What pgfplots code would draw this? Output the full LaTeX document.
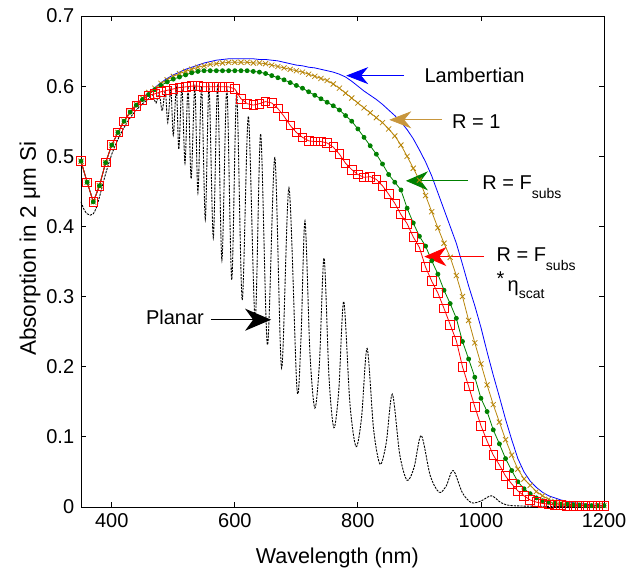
\documentclass[border=0pt]{standalone}
\usepackage{fontspec}
\setmainfont{Liberation Sans}
\usepackage{pgfplots}
\pgfplotsset{compat=1.18}
\usetikzlibrary{arrows.meta}

\definecolor{lamb}{RGB}{0,0,255}
\definecolor{rone}{RGB}{184,134,11}
\definecolor{ronearrow}{RGB}{200,150,60}
\definecolor{fsub}{RGB}{0,128,0}
\definecolor{feta}{RGB}{255,0,0}

% absorption in 2 um Si, sampled every 10 nm
\pgfplotstableread{
x y
350 0.493
360 0.463
370 0.435
380 0.458
390 0.491
400 0.516
410 0.534
420 0.550
430 0.563
440 0.574
450 0.583
460 0.591
470 0.598
480 0.605
490 0.611
500 0.616
510 0.620
520 0.624
530 0.627
540 0.630
550 0.633
560 0.635
570 0.637
580 0.638
590 0.639
600 0.639
610 0.639
620 0.639
630 0.639
640 0.638
650 0.638
660 0.637
670 0.636
680 0.634
690 0.632
700 0.630
710 0.629
720 0.627
730 0.626
740 0.624
750 0.622
760 0.620
770 0.617
780 0.613
790 0.607
800 0.600
810 0.593
820 0.587
830 0.581
840 0.574
850 0.566
860 0.558
870 0.549
880 0.538
890 0.525
900 0.509
910 0.492
920 0.472
930 0.448
940 0.424
950 0.400
960 0.376
970 0.346
980 0.315
990 0.287
1000 0.256
1010 0.221
1020 0.188
1030 0.157
1040 0.125
1050 0.096
1060 0.069
1070 0.050
1080 0.037
1090 0.028
1100 0.021
1110 0.016
1120 0.013
1130 0.010
1140 0.008
1150 0.006
1160 0.005
1170 0.004
1180 0.003
1190 0.003
1200 0.002
}\lambertian

\pgfplotstableread{
x y
350 0.493
360 0.463
370 0.435
380 0.458
390 0.491
400 0.516
410 0.534
420 0.550
430 0.563
440 0.574
450 0.583
460 0.591
470 0.597
480 0.604
490 0.609
500 0.614
510 0.618
520 0.621
530 0.624
540 0.627
550 0.629
560 0.631
570 0.632
580 0.633
590 0.634
600 0.634
610 0.634
620 0.634
630 0.633
640 0.633
650 0.632
660 0.630
670 0.628
680 0.626
690 0.624
700 0.622
710 0.620
720 0.617
730 0.614
740 0.611
750 0.608
760 0.603
770 0.597
780 0.590
790 0.583
800 0.576
810 0.569
820 0.562
830 0.555
840 0.548
850 0.539
860 0.529
870 0.516
880 0.500
890 0.483
900 0.466
910 0.444
920 0.421
930 0.398
940 0.376
950 0.356
960 0.330
970 0.300
980 0.266
990 0.234
1000 0.204
1010 0.174
1020 0.146
1030 0.121
1040 0.096
1050 0.074
1060 0.054
1070 0.040
1080 0.031
1090 0.022
1100 0.016
1110 0.011
1120 0.008
1130 0.006
1140 0.005
1150 0.004
1160 0.003
1170 0.003
1180 0.002
1190 0.002
1200 0.002
}\rone

\pgfplotstableread{
x y
350 0.493
360 0.463
370 0.435
380 0.458
390 0.491
400 0.516
410 0.534
420 0.550
430 0.563
440 0.573
450 0.581
460 0.588
470 0.595
480 0.601
490 0.606
500 0.610
510 0.613
520 0.616
530 0.619
540 0.621
550 0.622
560 0.622
570 0.622
580 0.622
590 0.622
600 0.622
610 0.622
620 0.622
630 0.621
640 0.620
650 0.618
660 0.615
670 0.612
680 0.609
690 0.605
700 0.601
710 0.597
720 0.592
730 0.587
740 0.582
750 0.577
760 0.572
770 0.566
780 0.558
790 0.550
800 0.539
810 0.527
820 0.515
830 0.503
840 0.489
850 0.474
860 0.463
870 0.452
880 0.426
890 0.405
900 0.386
910 0.372
920 0.351
930 0.332
940 0.309
950 0.290
960 0.269
970 0.236
980 0.211
990 0.185
1000 0.155
1010 0.136
1020 0.110
1030 0.090
1040 0.069
1050 0.052
1060 0.036
1070 0.026
1080 0.019
1090 0.013
1100 0.009
1110 0.007
1120 0.005
1130 0.004
1140 0.004
1150 0.003
1160 0.003
1170 0.002
1180 0.002
1190 0.002
1200 0.002
}\fsubs

\pgfplotstableread{
x y
350 0.493
360 0.463
370 0.435
380 0.458
390 0.491
400 0.516
410 0.534
420 0.550
430 0.562
440 0.572
450 0.580
460 0.587
470 0.589
480 0.592
490 0.594
500 0.596
510 0.598
520 0.599
530 0.600
540 0.600
550 0.599
560 0.599
570 0.599
580 0.599
590 0.599
600 0.596
610 0.582
620 0.575
630 0.573
640 0.575
650 0.578
660 0.576
670 0.568
680 0.557
690 0.544
700 0.534
710 0.527
720 0.522
730 0.521
740 0.521
750 0.519
760 0.513
770 0.503
780 0.490
790 0.481
800 0.474
810 0.470
820 0.471
830 0.467
840 0.458
850 0.446
860 0.433
870 0.417
880 0.404
890 0.385
900 0.370
910 0.342
920 0.322
930 0.305
940 0.283
950 0.260
960 0.237
970 0.200
980 0.172
990 0.143
1000 0.116
1010 0.094
1020 0.074
1030 0.060
1040 0.044
1050 0.033
1060 0.023
1070 0.016
1080 0.010
1090 0.007
1100 0.005
1110 0.004
1120 0.003
1130 0.003
1140 0.002
1150 0.002
1160 0.002
1170 0.002
1180 0.002
1190 0.002
1200 0.002
}\fsubseta

\pgfplotstableread{
x y
350 0.435
355 0.424
360 0.418
365 0.416
370 0.418
375 0.427
380 0.442
390 0.475
400 0.503
410 0.524
420 0.541
430 0.555
440 0.566
450 0.575
460 0.582
466 0.588
472 0.576
477 0.590
482 0.565
487 0.593
491 0.548
496 0.596
500 0.530
505 0.598
509 0.510
514 0.600
519 0.490
524 0.600
529 0.468
535 0.600
540 0.448
546 0.600
552 0.410
558 0.600
565 0.384
572 0.600
579 0.352
587 0.598
595 0.324
603 0.590
612 0.295
622 0.557
633 0.267
642 0.532
653 0.231
665 0.498
676 0.198
688 0.455
701 0.168
707.5 0.240
714 0.408
722 0.221
730 0.141
737.5 0.205
745 0.355
753 0.186
761 0.113
769 0.167
777 0.293
787 0.148
797 0.086
806 0.128
815 0.226
825.5 0.111
836 0.061
846 0.091
856 0.161
868 0.075
880 0.038
891.5 0.057
903 0.102
917.5 0.045
932 0.021
943.5 0.030
955 0.052
970 0.020
985 0.006
1001 0.009
1017 0.016
1033 0.006
1050 0.002
1100 0.001
1200 0.000
}\planar

\begin{document}
\fontsize{20}{24}\selectfont
\begin{tikzpicture}
\begin{axis}[
  scale only axis,
  width=523pt, height=491pt,
  xmin=350, xmax=1200, ymin=0, ymax=0.7,
  xtick={400,600,800,1000,1200},
  ytick={0,0.1,0.2,0.3,0.4,0.5,0.6,0.7},
  xtick pos=both, ytick pos=both,
  tick align=inside, major tick length=5pt,
  axis line style={line width=0.8pt},
  tick style={line width=0.8pt, black},
  /pgf/number format/assume math mode=true,
  /pgf/number format/1000 sep={},
  ticklabel style={font=\fontsize{20}{24}\selectfont},
  yticklabel style={/pgf/number format/fixed, /pgf/number format/precision=1},
  xlabel={Wavelength (nm)},
  ylabel={Absorption in 2 μm Si},
  xlabel style={font=\fontsize{21.5}{24}\selectfont, at={(rel axis cs:0.49,-0.104)}, anchor=center},
  ylabel style={font=\fontsize{22.5}{24}\selectfont, at={(rel axis cs:-0.0975,0.526)}, anchor=center},
  clip=false,
]
\addplot[black, line width=0.9pt, dash pattern=on 2.2pt off 1.1pt, smooth, tension=0.5] table {\planar};
\addplot[lamb, line width=0.8pt, no markers] table {\lambertian};
\addplot[rone, line width=0.8pt, mark=x, mark size=3.6pt] table {\rone};
\addplot[fsub, line width=0.8pt, mark=*, mark size=2pt] table {\fsubs};
\addplot[feta, line width=0.8pt, mark=square, mark size=4.3pt] table {\fsubseta};

% annotations
\draw[lamb, line width=0.9pt, -{Stealth[length=22pt,width=17pt,inset=7pt]}]
  (axis cs:875,0.615) -- (axis cs:781,0.615);
\node[anchor=west, inner sep=0pt] at (axis cs:908,0.615) {Lambertian};

\draw[ronearrow, line width=0.7pt, -{Stealth[length=22pt,width=17pt,inset=7pt]}]
  (axis cs:937,0.552) -- (axis cs:851,0.552);
\node[anchor=west, inner sep=0pt] at (axis cs:953,0.549) {R = 1};

\draw[fsub, line width=1pt, -{Stealth[length=22pt,width=19pt,inset=7pt]}]
  (axis cs:979,0.465) -- (axis cs:878,0.465);
\node[anchor=base west, inner sep=0pt] at (axis cs:1002,0.452)
  {R = F\raisebox{-0.45em}{\fontsize{14}{14}\selectfont subs}};

\draw[feta, line width=0.9pt, -{Stealth[length=22pt,width=19pt,inset=7pt]}]
  (axis cs:1005,0.357) -- (axis cs:908,0.357);
\node[anchor=base west, inner sep=0pt] at (axis cs:1025,0.350)
  {R = F\raisebox{-0.45em}{\fontsize{14}{14}\selectfont subs}};
\node[anchor=base west, inner sep=0pt] at (axis cs:1025,0.307)
  {\raisebox{0.3em}{*}\,η\raisebox{-0.35em}{\fontsize{14}{14}\selectfont scat}};

\draw[black, line width=1.3pt, -{Stealth[length=26pt,width=22pt,inset=8pt]}]
  (axis cs:561,0.267) -- (axis cs:659,0.267);
\node[anchor=east, inner sep=0pt] at (axis cs:550,0.271) {Planar};
\end{axis}
\pgfresetboundingbox
\path ([xshift=-81pt,yshift=-64pt]current axis.south west)
  rectangle ([xshift=26pt,yshift=16pt]current axis.north east);
\end{tikzpicture}
\end{document}
